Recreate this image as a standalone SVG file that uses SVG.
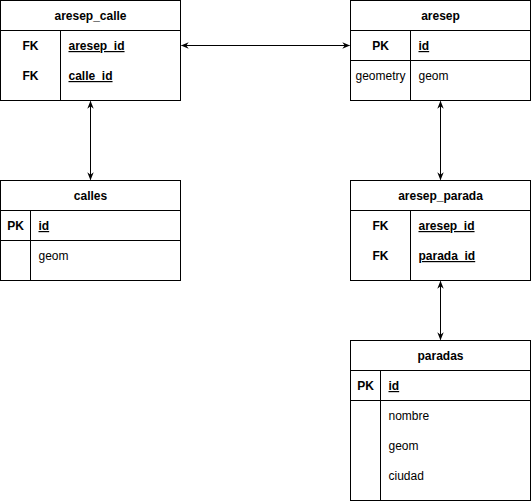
<svg xmlns="http://www.w3.org/2000/svg" width="531" height="501" viewBox="0 0 531 501">
<defs>
<marker id="arr" viewBox="0 0 10 10" refX="9" refY="5" markerWidth="8" markerHeight="8" markerUnits="userSpaceOnUse" orient="auto-start-reverse">
<path d="M0,1 L10,5 L0,9 L3,5 Z" fill="#000" stroke="none"/>
</marker>
<style>
.box{fill:#fff;stroke:#000;stroke-width:1}
.ln{stroke:#000;stroke-width:1;fill:none}
text{font-family:"Liberation Sans",Arial,Helvetica,sans-serif;font-size:12px;fill:#000}
.h{font-weight:bold;text-anchor:middle}
.k{font-weight:bold;text-anchor:middle}
.c{text-anchor:middle}
.u{font-weight:bold;text-decoration:underline}
.conn{stroke:#000;stroke-width:1;fill:none;marker-start:url(#arr);marker-end:url(#arr)}
</style>
</defs>
<g id="connectors">
<path class="conn" d="M181.5,45.5 L349.5,45.5"/>
<path class="conn" d="M90.5,101.5 L90.5,179.5"/>
<path class="conn" d="M440.5,101.5 L440.5,179.5"/>
<path class="conn" d="M440.5,281.5 L440.5,339.5"/>
</g>
<g id="aresep_calle">
<rect class="box" x="0.5" y="0.5" width="180" height="100"/>
<path class="ln" d="M0.5,30.5 H180.5 M60.5,30.5 V100.5"/>
<text class="h" x="90.5" y="20">aresep_calle</text>
<text class="k" x="30.5" y="50">FK</text>
<text class="u" x="68.5" y="50">aresep_id</text>
<text class="k" x="30.5" y="80">FK</text>
<text class="u" x="68.5" y="80">calle_id</text>
</g>
<g id="aresep">
<rect class="box" x="350.5" y="0.5" width="180" height="100"/>
<path class="ln" d="M350.5,30.5 H530.5 M350.5,60.5 H530.5 M410.5,30.5 V100.5"/>
<text class="h" x="440.5" y="20">aresep</text>
<text class="k" x="380.5" y="50">PK</text>
<text class="u" x="418.5" y="50">id</text>
<text class="c" x="380.5" y="80">geometry</text>
<text x="418.5" y="80">geom</text>
</g>
<g id="calles">
<rect class="box" x="0.5" y="180.5" width="180" height="100"/>
<path class="ln" d="M0.5,210.5 H180.5 M0.5,240.5 H180.5 M30.5,210.5 V280.5"/>
<text class="h" x="90.5" y="200">calles</text>
<text class="k" x="15.5" y="230">PK</text>
<text class="u" x="38.5" y="230">id</text>
<text x="38.5" y="260">geom</text>
</g>
<g id="aresep_parada">
<rect class="box" x="350.5" y="180.5" width="180" height="100"/>
<path class="ln" d="M350.5,210.5 H530.5 M410.5,210.5 V280.5"/>
<text class="h" x="440.5" y="200">aresep_parada</text>
<text class="k" x="380.5" y="230">FK</text>
<text class="u" x="418.5" y="230">aresep_id</text>
<text class="k" x="380.5" y="260">FK</text>
<text class="u" x="418.5" y="260">parada_id</text>
</g>
<g id="paradas">
<rect class="box" x="350.5" y="340.5" width="180" height="160"/>
<path class="ln" d="M350.5,370.5 H530.5 M350.5,400.5 H530.5 M380.5,370.5 V500.5"/>
<text class="h" x="440.5" y="360">paradas</text>
<text class="k" x="365.5" y="390">PK</text>
<text class="u" x="388.5" y="390">id</text>
<text x="388.5" y="420">nombre</text>
<text x="388.5" y="450">geom</text>
<text x="388.5" y="480">ciudad</text>
</g>
</svg>
